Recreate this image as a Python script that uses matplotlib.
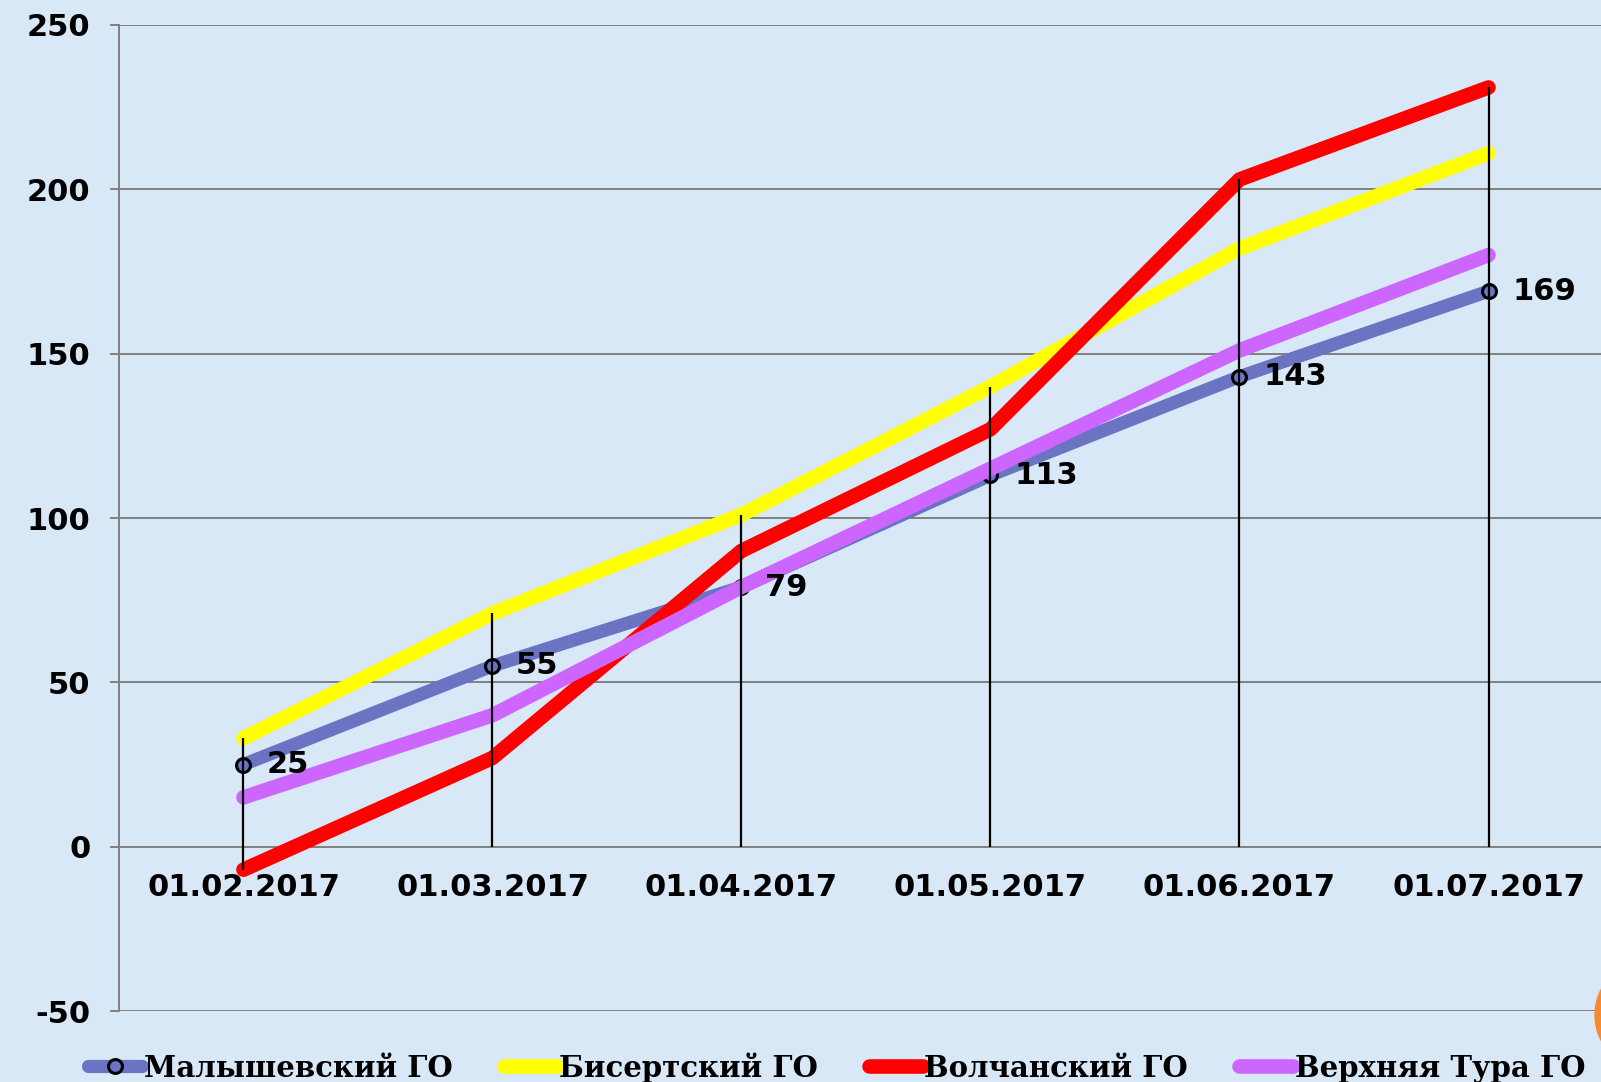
import matplotlib.pyplot as plt
from matplotlib.patches import Circle

# data
dates = ['01.02.2017', '01.03.2017', '01.04.2017', '01.05.2017', '01.06.2017', '01.07.2017']
malyshevsky = [25, 55, 79, 113, 143, 169]
bisertsky = [33, 71, 101, 140, 182, 211]
volchansky = [-7, 27, 90, 127, 203, 231]
verkh_tura = [15, 40, 79, 115, 151, 180]
series_names = ['Малышевский ГО', 'Бисертский ГО', 'Волчанский ГО', 'Верхняя Тура ГО']
y_ticks = [-50, 0, 50, 100, 150, 200, 250]

bg = '#d9e8f6'
grid_c = '#808080'
colors = ['#6b74c3', '#ffff00', '#ff0000', '#cc66ff']

fig = plt.figure(figsize=(16.01, 10.82), dpi=100)
fig.patch.set_facecolor(bg)
ax = fig.add_axes([0.0743, 0.0656, 0.9332, 0.9113])
ax.set_facecolor('none')

x = list(range(len(dates)))
all_series = [malyshevsky, bisertsky, volchansky, verkh_tura]

handles = []
for i, (vals, c, name) in enumerate(zip(all_series, colors, series_names)):
    if i == 0:
        ln, = ax.plot(x, vals, color=c, lw=9.5, solid_capstyle='round', solid_joinstyle='round',
                      marker='o', ms=10, mfc='none', mec='black', mew=2.2, zorder=2 + i, label=name)
    else:
        ln, = ax.plot(x, vals, color=c, lw=10.5, solid_capstyle='round', solid_joinstyle='round',
                      zorder=2 + i, label=name)
    handles.append(ln)

# drop lines from the highest point to the axis
for i in x:
    col = [s[i] for s in all_series]
    ax.vlines(i, min(0, min(col)), max(col), color='black', lw=1.6, zorder=7)

# data labels for the first series
for i, v in zip(x, malyshevsky):
    ax.annotate(str(v), xy=(i, v), xytext=(17, 0), textcoords='offset points',
                ha='left', va='center', fontsize=22, fontweight='bold', color='black', zorder=8)

# category labels under the zero line
for i, d in zip(x, dates):
    ax.annotate(d, xy=(i, 0), xytext=(0, -29.5), textcoords='offset points',
                ha='center', va='center', fontsize=22, fontweight='bold', color='black')

ax.set_xlim(-0.5, 5.5)
ax.set_ylim(-50, 250)
ax.set_xticks([])
ax.set_yticks(y_ticks)
ax.set_yticklabels([str(t) for t in y_ticks], fontsize=22, fontweight='bold')
ax.tick_params(axis='y', length=6.5, width=1.4, color=grid_c, pad=14)
ax.grid(axis='y', color=grid_c, lw=1.4, zorder=1)
ax.set_axisbelow(True)
for s in ['top', 'right', 'bottom']:
    ax.spines[s].set_visible(False)
ax.spines['left'].set_color(grid_c)
ax.spines['left'].set_linewidth(1.4)

leg = fig.legend(handles=handles, labels=series_names, loc='center left',
                 bbox_to_anchor=(0.0425, 0.0135), ncol=4, frameon=False, borderpad=0.2,
                 handlelength=1.85, handletextpad=0.05, columnspacing=1.75,
                 prop={'family': 'DejaVu Serif', 'weight': 'bold', 'size': 21})

# orange circle in the bottom right corner (inch coordinates keep it round)
fig.patches.append(Circle((16.50, 0.67), 0.55, transform=fig.dpi_scale_trans,
                          color='#f58a33', zorder=0))

fig.savefig('out.png', dpi=100, facecolor=fig.get_facecolor())
